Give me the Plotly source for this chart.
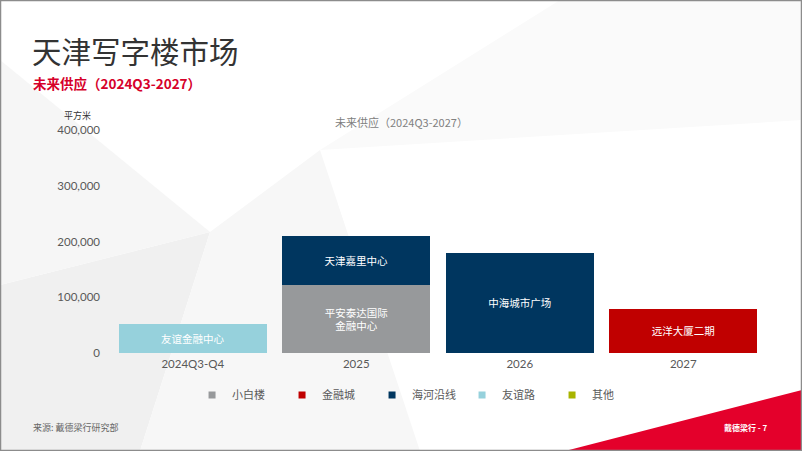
import plotly.graph_objects as go

# categories and supply (sq m) by submarket
periods = ['2024Q3-Q4', '2025', '2026', '2027']
xiaobailou = [None, 122000, None, None]
jinrongcheng = [None, None, None, 79000]
haihe = [None, 88000, 180000, None]
youyilu = [52000, None, None, None]
others = [None, None, None, None]

xiaobailou_txt = ['', '平安泰达国际<br>金融中心', '', '']
jinrongcheng_txt = ['', '', '', '远洋大厦二期']
haihe_txt = ['', '天津嘉里中心', '中海城市广场', '']
youyilu_txt = ['友谊金融中心', '', '', '']

y_ticks = [0, 100000, 200000, 300000, 400000]

colors = {'小白楼': '#97999B', '金融城': '#C00000', '海河沿线': '#00365F',
          '友谊路': '#96D1DC', '其他': '#A8B400'}

W, H = 802, 451
L, R, T, B = 111, 765, 130, 353


def px(x, y):
    # pixel position -> paper coords of plot area
    return (x - L) / (R - L), (B - y) / (B - T)


def path(points):
    pts = [px(x, y) for x, y in points]
    return 'M' + 'L'.join(f'{a:.4f},{b:.4f}' for a, b in pts) + 'Z'


fig = go.Figure()
series = [('小白楼', xiaobailou, xiaobailou_txt), ('金融城', jinrongcheng, jinrongcheng_txt),
          ('海河沿线', haihe, haihe_txt), ('友谊路', youyilu, youyilu_txt), ('其他', others, ['']*4)]
for name, vals, txt in series:
    fig.add_trace(go.Bar(x=periods, y=vals, name=name, text=txt, textposition='inside',
                         insidetextanchor='middle', texttemplate='%{text}',
                         textfont=dict(color='white', size=10.5, family='Noto Sans CJK SC'),
                         marker=dict(color=colors[name], line=dict(width=0)),
                         showlegend=False, hoverinfo='skip'))
# small square legend markers
for name, vals, txt in series:
    fig.add_trace(go.Scatter(x=[None], y=[None], mode='markers', name=name,
                             marker=dict(symbol='square', size=7, color=colors[name])))


def bg(points, color):
    return dict(type='path', path=path(points), xref='paper', yref='paper',
                fillcolor=color, line=dict(width=0), layer='below')


shapes = [
    # faint background facets
    bg([(0, 451), (0, 285), (210, 232), (140, 451)], '#F0F0F0'),
    bg([(0, 285), (0, 60), (210, 232)], '#F6F6F6'),
    bg([(210, 232), (320, 150), (420, 451), (140, 451)], '#F7F7F7'),
    bg([(320, 150), (560, 0), (802, 0), (802, 120)], '#FAFAFA'),
    # red corner
    bg([(565, 451), (802, 390), (802, 451)], '#E4002B'),
]
x0, y0 = px(0.5, 0.5)
x1, y1 = px(W - 0.5, H - 0.5)
shapes.append(dict(type='rect', xref='paper', yref='paper', x0=x0, y0=y0, x1=x1, y1=y1,
                   line=dict(color='#8C8C8C', width=1.5), fillcolor='rgba(0,0,0,0)'))


def ann(text, x, y, size, color, xanchor='left', bold=False):
    ax, ay = px(x, y)
    if bold:
        text = f'<b>{text}</b>'
    return dict(text=text, x=ax, y=ay, xref='paper', yref='paper', showarrow=False,
                xanchor=xanchor, yanchor='middle',
                font=dict(size=size, color=color, family='Noto Sans CJK SC'))


fig.update_layout(
    width=W, height=H,
    margin=dict(l=L, r=W - R, t=T, b=H - B, autoexpand=False),
    barmode='stack', bargap=0.095,
    paper_bgcolor='white', plot_bgcolor='rgba(0,0,0,0)',
    shapes=shapes,
    annotations=[
        ann('天津写字楼市场', 30, 50, 29.5, '#333333'),
        ann('未来供应（2024Q3-2027）', 31, 83, 13.5, '#D6002A', bold=True),
        ann('未来供应（2024Q3-2027）', 401, 122, 11, '#808080', xanchor='center'),
        ann('平方米', 77, 115, 9, '#333333', xanchor='center'),
        ann('来源: 戴德梁行研究部', 31, 427, 9, '#666666'),
        ann('戴德梁行 - 7', 722, 427, 8, 'white', bold=True),
    ],
    legend=dict(orientation='h', xref='container', yref='container', x=0.52, y=1 - 395 / H,
                xanchor='center', yanchor='middle', entrywidth=45, itemwidth=30,
                traceorder='normal',
                font=dict(size=11, color='#595959', family='Noto Sans CJK SC'),
                bgcolor='rgba(0,0,0,0)'),
    font=dict(family='Lato, Noto Sans CJK SC'),
)
fig.update_yaxes(range=[0, 400000], tickvals=y_ticks, tickformat=',', showgrid=False,
                 zeroline=False, showline=False, ticklabelstandoff=10,
                 tickfont=dict(size=11.5, color='#595959'))
fig.update_xaxes(showgrid=False, showline=False, ticks='', ticklabelstandoff=2,
                 tickfont=dict(size=11.5, color='#595959'))

# page fills the window without the default body margin
fig.write_html("out.html", config={'displayModeBar': False},
               post_script="document.body.style.margin='0';")
